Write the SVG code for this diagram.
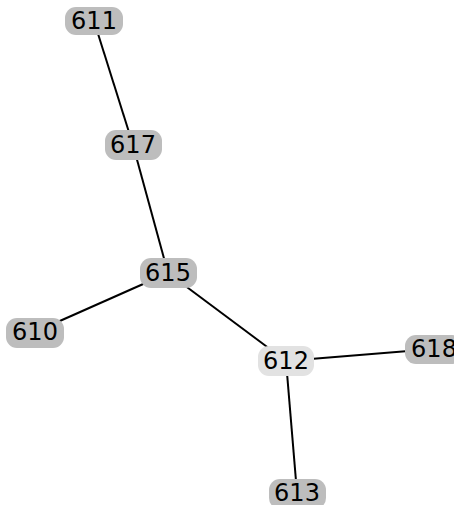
<svg xmlns="http://www.w3.org/2000/svg" width="454" height="505" viewBox="0 0 454 505">
<style>
.e{stroke:#000;stroke-width:2;fill:none}
.n rect{fill:#bdbdbd;stroke:none}
.n.l rect{fill:#e2e2e2}
.n text{font-family:"DejaVu Sans",sans-serif;font-size:24px;fill:#000;text-anchor:middle;dominant-baseline:central}
</style>
<rect width="454" height="505" fill="#fff"/>
<g id="edges">
<line class="e" x1="94" y1="21" x2="133" y2="145"/>
<line class="e" x1="133" y1="145" x2="168" y2="273"/>
<line class="e" x1="168" y1="273" x2="35" y2="332"/>
<line class="e" x1="168" y1="273" x2="286" y2="361"/>
<line class="e" x1="286" y1="361" x2="433" y2="349"/>
<line class="e" x1="286" y1="361" x2="297" y2="493"/>
</g>
<g id="n611" class="n"><rect x="65" y="7" width="58" height="28" rx="11"/><text x="94" y="21">611</text></g>
<g id="n617" class="n"><rect x="105" y="130" width="57" height="30" rx="11"/><text x="133" y="145">617</text></g>
<g id="n615" class="n"><rect x="140" y="258" width="57" height="30" rx="11"/><text x="168" y="273">615</text></g>
<g id="n610" class="n"><rect x="6" y="318" width="58" height="30" rx="11"/><text x="35" y="332">610</text></g>
<g id="n612" class="n l"><rect x="258" y="346" width="56" height="30" rx="11"/><text x="286" y="361">612</text></g>
<g id="n618" class="n"><rect x="405" y="335" width="58" height="29" rx="11"/><text x="434" y="349">618</text></g>
<g id="n613" class="n"><rect x="269" y="479" width="57" height="30" rx="11"/><text x="297" y="493">613</text></g>
</svg>
